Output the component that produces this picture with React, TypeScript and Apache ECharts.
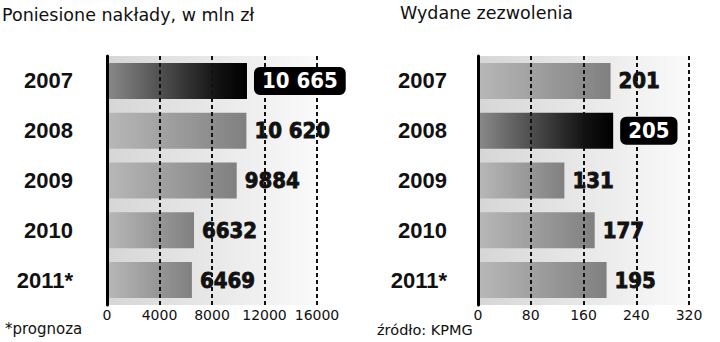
import React, { useEffect, useRef } from "react";
import * as echarts from "echarts";

const years = ["2007", "2008", "2009", "2010", "2011*"];
const spending = [10665, 10620, 9884, 6632, 6469];
const permits = [201, 205, 131, 177, 195];
const spendingHighlight = 0;
const permitsHighlight = 1;
const spendingAxis = { min: 0, max: 16000, interval: 4000 };
const permitsAxis = { min: 0, max: 320, interval: 80 };
const titles = ["Poniesione nakłady, w mln zł", "Wydane zezwolenia"];
const notes = ["*prognoza", "źródło: KPMG"];

const fmt = (v: number) => {
  const s = String(Math.round(v));
  return v >= 10000 ? s.slice(0, s.length - 3) + " " + s.slice(s.length - 3) : s;
};

const grad = (a: string, b: string, mid?: string) =>
  new echarts.graphic.LinearGradient(0, 0, 1, 0, mid
    ? [{ offset: 0, color: a }, { offset: 0.8, color: mid }, { offset: 1, color: b }]
    : [{ offset: 0, color: a }, { offset: 1, color: b }]);

const valueFont = "'DejaVu Sans Condensed', 'DejaVu Sans', sans-serif";

function buildSeries(values: number[], hi: number, idx: number) {
  const main = {
    type: "bar",
    xAxisIndex: idx,
    yAxisIndex: idx,
    barWidth: 36,
    barGap: "-100%",
    z: 2,
    data: values.map((v, i) => ({
      value: v,
      itemStyle: {
        color: i === hi ? grad("#8a8a8a", "#000000", "#111111") : grad("#b8b8b8", "#808080"),
      },
      label: { show: i !== hi },
    })),
    label: {
      show: true,
      position: "right",
      distance: 8,
      formatter: (p: any) => fmt(p.value),
      fontFamily: valueFont,
      fontWeight: "bold",
      fontSize: 22,
      color: "#111",
      textBorderColor: "#111",
      textBorderWidth: 0.8,
    },
  };
  const hiSeries = {
    type: "bar",
    xAxisIndex: idx,
    yAxisIndex: idx,
    barWidth: 36,
    barGap: "-100%",
    z: 5,
    silent: true,
    itemStyle: { color: "rgba(0,0,0,0)" },
    data: values.map((v, i) => (i === hi ? v : "-")),
    label: {
      show: true,
      position: "right",
      distance: 7,
      formatter: (p: any) => fmt(p.value),
      fontFamily: valueFont,
      fontWeight: "bold",
      fontSize: 22,
      lineHeight: 22,
      color: "#fff",
      backgroundColor: "#000",
      borderRadius: 6,
      padding: [3, 8, 3, 8],
    },
  };
  return [main, hiSeries];
}

export default function App() {
  const ref = useRef<HTMLDivElement>(null);
  useEffect(() => {
    if (!ref.current) return;
    const chart = echarts.init(ref.current, null, { renderer: "svg" });
    const bg = grad("#d6d6d6", "#fafafa");
    const grids = [
      { left: 107, width: 210, top: 56, height: 249 },
      { left: 478, width: 211, top: 56, height: 249 },
    ].map((g) => ({ ...g, show: true, backgroundColor: bg, borderWidth: 0, containLabel: false }));
    const xAxisBase = (ax: any, gi: number) => ({
      type: "value",
      gridIndex: gi,
      ...ax,
      z: 3,
      axisLine: { show: false },
      axisTick: { show: false },
      axisLabel: {
        fontFamily: "'DejaVu Sans', sans-serif",
        fontSize: 14,
        color: "#111",
        margin: 3,
        formatter: (v: number) => String(v),
      },
      splitLine: { show: true, lineStyle: { color: "#111", width: 2, type: [4, 3] } },
    });
    const yAxisBase = (gi: number, margin: number) => ({
      type: "category",
      gridIndex: gi,
      inverse: true,
      data: years,
      z: 4,
      axisLine: { show: true, lineStyle: { color: "#000", width: 3 } },
      axisTick: { show: false },
      axisLabel: {
        fontFamily: "'Liberation Sans', Arial, sans-serif",
        fontWeight: "bold",
        fontSize: 22,
        color: "#111",
        margin,
      },
    });
    chart.setOption({
      animation: false,
      backgroundColor: "#fff",
      grid: grids,
      xAxis: [xAxisBase(spendingAxis, 0), xAxisBase(permitsAxis, 1)],
      yAxis: [yAxisBase(0, 34), yAxisBase(1, 31)],
      series: [
        ...buildSeries(spending, spendingHighlight, 0),
        ...buildSeries(permits, permitsHighlight, 1),
      ],
      graphic: [
        {
          type: "text",
          left: 2,
          top: 6,
          style: { text: titles[0], font: "17.5px 'DejaVu Sans', sans-serif", fill: "#111" },
        },
        {
          type: "text",
          left: 400,
          top: 4,
          style: { text: titles[1], font: "17.5px 'DejaVu Sans', sans-serif", fill: "#111" },
        },
        {
          type: "text",
          left: 5,
          top: 321,
          style: { text: notes[0], font: "15px 'DejaVu Sans', sans-serif", fill: "#111" },
        },
        {
          type: "text",
          left: 377,
          top: 322,
          style: { text: notes[1], font: "14.5px 'DejaVu Sans', sans-serif", fill: "#111" },
        },
      ],
    });
    return () => chart.dispose();
  }, []);
  return (
    <div
      ref={ref}
      style={{ position: "absolute", left: 0, top: 0, width: 720, height: 342 }}
    />
  );
}
